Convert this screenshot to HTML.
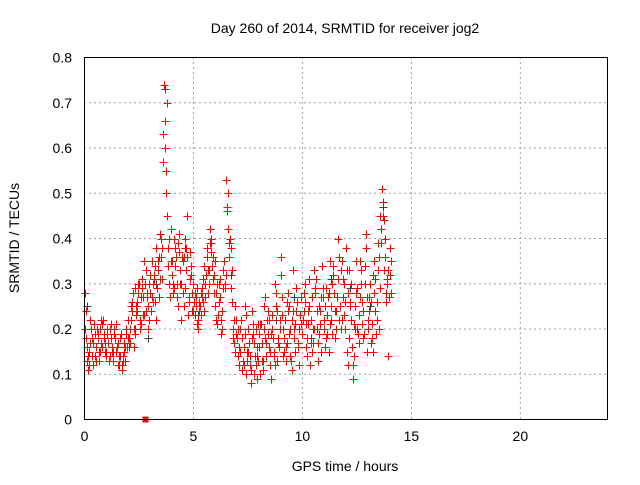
<!DOCTYPE html>
<html><head><meta charset="utf-8"><style>
body{margin:0;background:#fff}
svg text{font-family:"Liberation Sans",sans-serif;font-size:14px;fill:#000}
</style></head><body>
<svg id="chart" width="640" height="480" xmlns="http://www.w3.org/2000/svg">
<text x="345" y="33" text-anchor="middle">Day 260 of 2014, SRMTID for receiver jog2</text>
<text transform="translate(19,238) rotate(-90)" text-anchor="middle">SRMTID / TECUs</text>
<text x="345" y="471" text-anchor="middle">GPS time / hours</text>
<g id="grid"></g><g id="ticks"></g><g id="marks"></g>
<rect x="84.5" y="57.5" width="523" height="362" fill="none" stroke="#000"/>
</svg>
<script>
const xTicks=[0,5,10,15,20];
const yTicks=[0,0.1,0.2,0.3,0.4,0.5,0.6,0.7,0.8];
const yTickLabels=["0","0.1","0.2","0.3","0.4","0.5","0.6","0.7","0.8"];
const seriesStarts=[0.0,0.05,0.025,0.075];
const sampleStep=0.1;
const seriesA=[.28,.13,.15,.2,.17,.14,.18,.2,.16,.19,.15,.17,.21,.13,.18,.16,.12,.11,.17,.19,
.22,.17,.26,.29,.24,.3,.21,.27,.33,.25,.28,.35,.31,.38,.27,.36,.57,.66,.45,.3,
.35,.29,.36,.25,.33,.28,.4,.45,.26,.32,.24,.27,.22,.25,.29,.34,.38,.3,.4,.36,
.25,.21,.31,.24,.35,.53,.42,.38,.2,.15,.18,.12,.22,.16,.1,.2,.14,.24,.17,.09,
.16,.21,.13,.27,.19,.12,.23,.15,.28,.18,.36,.14,.22,.17,.25,.11,.2,.29,.16,.23,
.19,.26,.14,.31,.22,.17,.28,.13,.24,.34,.2,.29,.15,.25,.32,.18,.27,.36,.22,.3,
.38,.12,.26,.09,.2,.29,.17,.33,.24,.41,.22,.3,.18,.35,.26,.2,.42,.48,.36,.3,.38];
const seriesB=[.24,.11,.22,.14,.21,.16,.13,.17,.22,.15,.19,.14,.16,.2,.15,.12,.18,.14,.13,.16,
.18,.25,.2,.23,.28,.2,.31,.23,.27,.3,.24,.3,.26,.33,.41,.31,.74,.5,.34,.42,
.3,.38,.27,.41,.3,.36,.33,.23,.37,.28,.28,.21,.26,.23,.31,.27,.33,.42,.34,.28,
.22,.3,.19,.33,.29,.47,.36,.26,.17,.22,.14,.2,.11,.25,.13,.17,.08,.19,.12,.21,
.1,.17,.25,.14,.22,.09,.18,.3,.13,.2,.27,.18,.13,.24,.2,.33,.15,.26,.12,.21,
.24,.16,.21,.12,.27,.33,.2,.25,.15,.29,.16,.23,.35,.19,.28,.24,.4,.2,.31,.26,
.15,.33,.22,.14,.35,.19,.27,.21,.3,.15,.27,.17,.32,.24,.39,.45,.51,.33,.26,.14,.28];
const seriesC=[.2,.16,.12,.18,.21,.13,.19,.15,.21,.17,.2,.13,.18,.15,.21,.17,.14,.12,.15,.2,
.16,.22,.28,.19,.26,.22,.29,.35,.24,.2,.32,.26,.34,.29,.36,.4,.63,.55,.38,.27,
.32,.4,.3,.37,.22,.35,.29,.36,.31,.24,.26,.25,.2,.28,.26,.3,.36,.33,.37,.32,
.28,.23,.27,.2,.3,.46,.39,.29,.18,.25,.2,.15,.18,.12,.23,.15,.11,.21,.14,.16,
.19,.13,.2,.17,.24,.15,.2,.12,.24,.16,.32,.2,.16,.28,.14,.22,.18,.24,.2,.27,
.22,.3,.18,.25,.15,.2,.31,.17,.21,.27,.25,.19,.28,.22,.34,.2,.31,.25,.35,.23,
.33,.18,.3,.12,.25,.2,.35,.26,.19,.38,.2,.26,.15,.31,.22,.36,.39,.44,.28,.33,.32];
const seriesD=[.18,.14,.17,.12,.19,.2,.15,.22,.18,.14,.17,.2,.15,.19,.16,.14,.19,.13,.16,.18,
.2,.24,.16,.25,.3,.27,.23,.3,.28,.22,.27,.32,.22,.35,.31,.38,.6,.7,.4,.35,
.28,.34,.39,.3,.36,.25,.38,.27,.34,.3,.23,.29,.24,.27,.24,.32,.28,.39,.31,.35,
.3,.26,.22,.29,.32,.5,.4,.33,.22,.19,.16,.22,.13,.19,.15,.12,.18,.1,.2,.13,
.21,.11,.18,.22,.16,.19,.14,.25,.17,.22,.23,.15,.26,.19,.13,.24,.21,.17,.23,.19,
.28,.21,.24,.17,.2,.29,.24,.19,.27,.22,.18,.27,.21,.3,.24,.27,.22,.33,.27,.2,
.28,.25,.16,.21,.28,.23,.3,.18,.34,.27,.24,.21,.28,.19,.33,.29,.45,.4,.31,.27,.35];
const grayTimes=[0.1,2.3,2.9,3.3,3.7,4.6,5.2,5.8,6.7,7.9,8.8,9.6,10.4,11.3,12.2,13.1,13.7,14.0];
const grayValues=[.25,.2,.18,.3,.73,.38,.23,.39,.32,.14,.22,.27,.18,.31,.29,.25,.47,.38];
const outlierTimes=[2.8];const outlierValues=[0];
const X=t=>84.5+t*(523/24), Y=v=>419.5-v*(362/0.8);
const NS="http://www.w3.org/2000/svg";
function mk(tag,attrs,parent){const e=document.createElementNS(NS,tag);for(const k in attrs)e.setAttribute(k,attrs[k]);document.getElementById(parent).appendChild(e);return e;}
xTicks.forEach(t=>{const x=X(t);
 if(t>0){const g=mk('line',{x1:x,x2:x,y1:57,y2:419,stroke:'#a0a0a0','stroke-dasharray':'2,3'},'grid');
 
 }
 const l=mk('text',{x:x,y:441,'text-anchor':'middle'},'ticks');l.textContent=t;
 
 });
yTicks.forEach((v,i)=>{const y=Y(v);
 if(v>0&&v<0.8){const g=mk('line',{x1:84,x2:608,y1:y,y2:y,stroke:'#a0a0a0','stroke-dasharray':'2,3'},'grid');
 
 }
 const l=mk('text',{x:72,y:y+5,'text-anchor':'end'},'ticks');l.textContent=yTickLabels[i];
 
 });
function plus(t,v,col){const x=Math.round(X(t))+0.5,y=Math.round(Y(v))+0.5;
 const p=mk('path',{d:`M${x-4} ${y}H${x+4}M${x} ${y-4}V${y+4}`,stroke:col,'stroke-width':1},'marks');
 
 }
grayTimes.forEach((t,i)=>plus(t,grayValues[i],'#404040'));
[seriesA,seriesB,seriesC,seriesD].forEach((s,k)=>s.forEach((v,i)=>plus(seriesStarts[k]+i*sampleStep,v,'#ff0000')));
outlierTimes.forEach((t,i)=>{const r=mk('rect',{x:X(t)-3,y:Y(outlierValues[i])-3,width:6,height:6,fill:'#ff0000'},'marks');
 
 });
</script>
</body></html>
